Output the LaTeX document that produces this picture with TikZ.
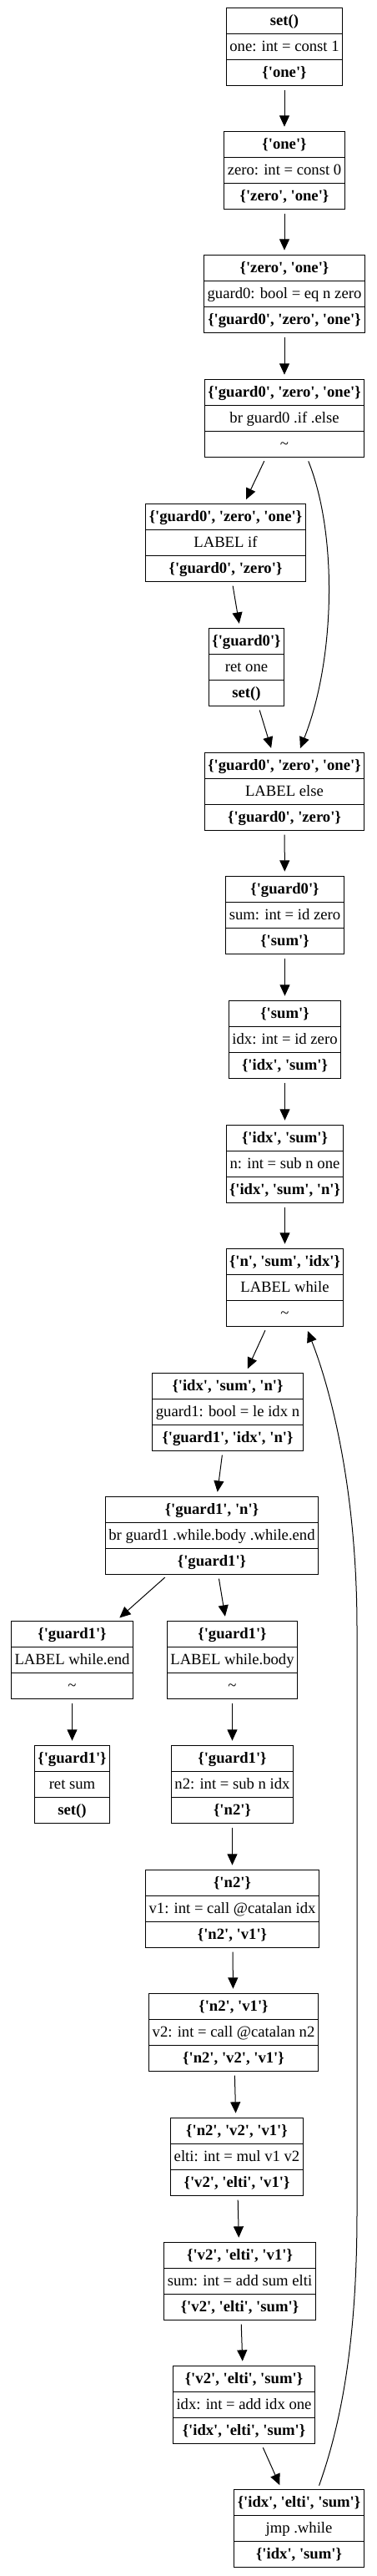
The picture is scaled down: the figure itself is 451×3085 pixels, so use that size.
\documentclass[tikz,border=0pt]{standalone}
\usepackage{fontspec}
\setmainfont{Liberation Serif}[Ligatures=TeXOff]
\usetikzlibrary{arrows.meta,shapes.multipart,calc}
\newcommand{\rs}{\rule[-7.5pt]{0pt}{22.5pt}}

\begin{document}
\begin{tikzpicture}[x=0.75pt,y=-0.75pt]
            \useasboundingbox (0,0) rectangle (451,3085);
            \begin{scope}[every node/.style = {rectangle split, rectangle split parts=3, draw, line width=0.75pt,
                            inner xsep=3pt, inner ysep=0pt, font=\fontsize{14pt}{16pt}\selectfont}]
                \node (A) at (341,56)    {\rs\textbf{set()}\nodepart{two}\rs one: int = const 1\nodepart{three}\rs\textbf{\{'one'\}}};
                \node (B) at (341,204)   {\rs\textbf{\{'one'\}}\nodepart{two}\rs zero: int = const 0\nodepart{three}\rs\textbf{\{'zero', 'one'\}}};
                \node (C) at (341,352)   {\rs\textbf{\{'zero', 'one'\}}\nodepart{two}\rs guard0: bool = eq n zero\nodepart{three}\rs\textbf{\{'guard0', 'zero', 'one'\}}};
                \node (D) at (341,501)   {\rs\textbf{\{'guard0', 'zero', 'one'\}}\nodepart{two}\rs br guard0 .if .else\nodepart{three}\rs\textasciitilde};
                \node (E) at (270.5,650) {\rs\textbf{\{'guard0', 'zero', 'one'\}}\nodepart{two}\rs LABEL if\nodepart{three}\rs\textbf{\{'guard0', 'zero'\}}};
                \node (F) at (295.5,799) {\rs\textbf{\{'guard0'\}}\nodepart{two}\rs ret one\nodepart{three}\rs\textbf{set()}};
                \node (G) at (341,948)   {\rs\textbf{\{'guard0', 'zero', 'one'\}}\nodepart{two}\rs LABEL else\nodepart{three}\rs\textbf{\{'guard0', 'zero'\}}};
                \node (H) at (341.5,1096) {\rs\textbf{\{'guard0'\}}\nodepart{two}\rs sum: int = id zero\nodepart{three}\rs\textbf{\{'sum'\}}};
                \node (I) at (341.5,1245) {\rs\textbf{\{'sum'\}}\nodepart{two}\rs idx: int = id zero\nodepart{three}\rs\textbf{\{'idx', 'sum'\}}};
                \node (J) at (341.5,1394) {\rs\textbf{\{'idx', 'sum'\}}\nodepart{two}\rs n: int = sub n one\nodepart{three}\rs\textbf{\{'idx', 'sum', 'n'\}}};
                \node (K) at (341.5,1542) {\rs\textbf{\{'n', 'sum', 'idx'\}}\nodepart{two}\rs LABEL while\nodepart{three}\rs\textasciitilde};
                \node (L) at (273,1691)  {\rs\textbf{\{'idx', 'sum', 'n'\}}\nodepart{two}\rs guard1: bool = le idx n\nodepart{three}\rs\textbf{\{'guard1', 'idx', 'n'\}}};
                \node (M) at (254,1839)  {\rs\textbf{\{'guard1', 'n'\}}\nodepart{two}\rs br guard1 .while.body .while.end\nodepart{three}\rs\textbf{\{'guard1'\}}};
                \node (N) at (86.5,1988) {\rs\textbf{\{'guard1'\}}\nodepart{two}\rs LABEL while.end\nodepart{three}\rs\textasciitilde};
                \node (O) at (278.5,1988) {\rs\textbf{\{'guard1'\}}\nodepart{two}\rs LABEL while.body\nodepart{three}\rs\textasciitilde};
                \node (P) at (86.5,2137) {\rs\textbf{\{'guard1'\}}\nodepart{two}\rs ret sum\nodepart{three}\rs\textbf{set()}};
                \node (Q) at (278.5,2137) {\rs\textbf{\{'guard1'\}}\nodepart{two}\rs n2: int = sub n idx\nodepart{three}\rs\textbf{\{'n2'\}}};
                \node (R) at (278.5,2286) {\rs\textbf{\{'n2'\}}\nodepart{two}\rs v1: int = call @catalan idx\nodepart{three}\rs\textbf{\{'n2', 'v1'\}}};
                \node (S) at (280,2434)  {\rs\textbf{\{'n2', 'v1'\}}\nodepart{two}\rs v2: int = call @catalan n2\nodepart{three}\rs\textbf{\{'n2', 'v2', 'v1'\}}};
                \node (T) at (284,2583)  {\rs\textbf{\{'n2', 'v2', 'v1'\}}\nodepart{two}\rs elti: int = mul v1 v2\nodepart{three}\rs\textbf{\{'v2', 'elti', 'v1'\}}};
                \node (U) at (287.5,2732) {\rs\textbf{\{'v2', 'elti', 'v1'\}}\nodepart{two}\rs sum: int = add sum elti\nodepart{three}\rs\textbf{\{'v2', 'elti', 'sum'\}}};
                \node (V) at (292.5,2880) {\rs\textbf{\{'v2', 'elti', 'sum'\}}\nodepart{two}\rs idx: int = add idx one\nodepart{three}\rs\textbf{\{'idx', 'elti', 'sum'\}}};
                \node (W) at (358.5,3028) {\rs\textbf{\{'idx', 'elti', 'sum'\}}\nodepart{two}\rs jmp .while\nodepart{three}\rs\textbf{\{'idx', 'sum'\}}};
            \end{scope}

            \begin{scope}[>={Triangle[length=10pt,width=9pt]},
                            flow/.style={draw,line width=0.75pt,shorten <=3.5pt,shorten >=4pt},
                            every edge/.style={flow}]
                \path [->] (A) edge (B);
                \path [->] (B) edge (C);
                \path [->] (C) edge (D);
                \path [->] (D) edge (E);
                \path [->] (E) edge (F);
                \path [->] (F) edge (G);
                \path [->] (G) edge (H);
                \path [->] (H) edge (I);
                \path [->] (I) edge (J);
                \path [->] (J) edge (K);
                \path [->] (K) edge (L);
                \path [->] (L) edge (M);
                \path [->] (M) edge (N);
                \path [->] (M) edge (O);
                \path [->] (N) edge (P);
                \path [->] (O) edge (Q);
                \path [->] (Q) edge (R);
                \path [->] (R) edge (S);
                \path [->] (S) edge (T);
                \path [->] (T) edge (U);
                \path [->] (U) edge (V);
                \path [->] (V) edge (W);
                % else branch and loop back
                \draw [flow,->] ($(D.south)+(27,0)$) .. controls (405,640) and (402,790) .. ($(G.north)+(17,0)$);
                \draw [flow,->] ($(W.north)+(22.5,0)$) .. controls (410,2900) and (428,2800) .. (428,2650)
                    -- (428,1950) .. controls (428,1780) and (395,1660) .. ($(K.south)+(25.5,0)$);
            \end{scope}
        \end{tikzpicture}
\end{document}
